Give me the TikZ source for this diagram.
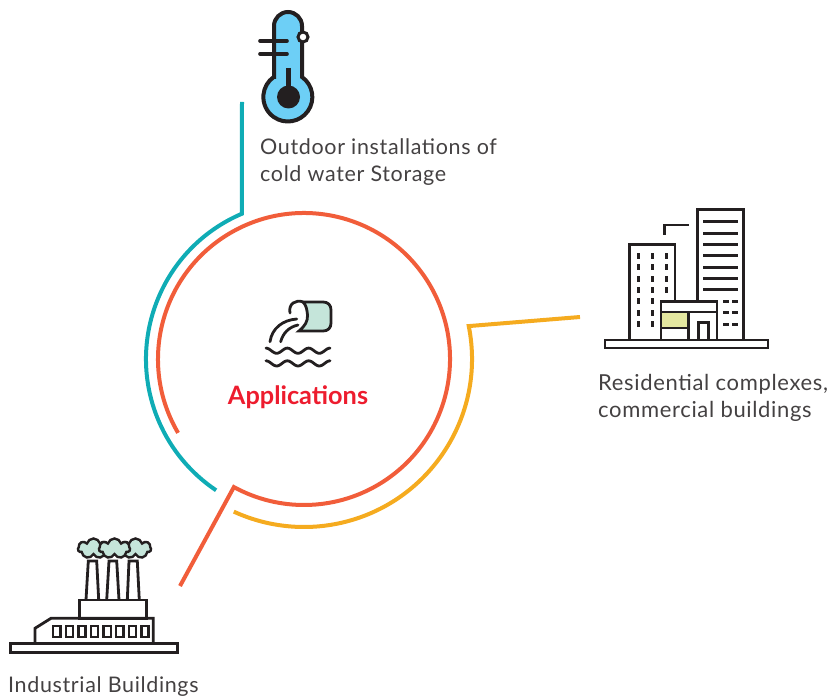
\documentclass[tikz,border=0pt]{standalone}
\usepackage{fontspec}
\setmainfont[LetterSpace=3]{Lato}
\newfontfamily\titlefont{Lato}
\usetikzlibrary{shapes.symbols}
\definecolor{ringred}{HTML}{F15D3A}
\definecolor{ringteal}{HTML}{0FACB5}
\definecolor{ringyellow}{HTML}{F5AB1F}
\definecolor{titlered}{HTML}{ED1C2E}
\definecolor{inkdark}{HTML}{231F20}
\definecolor{thermoblue}{HTML}{6DCFF6}
\definecolor{smokegreen}{HTML}{C5E5DA}
\definecolor{shoplime}{HTML}{E5E8A0}

\begin{document}
\begin{tikzpicture}[x=1pt, y=1pt]
	\tikzset{ring/.style={line width=4pt},
		icon/.style={draw=inkdark, line width=2.8pt},
		wave/.style={icon, line cap=round, smooth},
		label/.style={anchor=west, align=left, inner sep=0pt, font=\fontsize{21.5}{27.5}\selectfont, text=inkdark!85}}
	\useasboundingbox (0,0) rectangle (829,697);
	\coordinate(center) at (304,338);
	% rings
	\coordinate(tealtop) at (242,595);
	\coordinate(tealknee) at ([shift={(113.2:158)}]center);
	\coordinate(yellowend) at (580,380);
	\coordinate(yellowknee) at ([shift={(11.3:168)}]center);
	\coordinate(redend) at (180,111);
	\coordinate(redknee) at ([shift={(241.3:146)}]center);
	\coordinate(redstart) at ([shift={(210.4:146)}]center);
	\draw[ring, ringteal] (tealtop)--(tealknee) arc[start angle=113.2, end angle=236.2, radius=158];
	\draw[ring, ringyellow] (yellowend)--(yellowknee) arc[start angle=11.3, end angle=-114.7, radius=168];
	\draw[ring, ringred] (redstart) arc[start angle=210.4, end angle=-118.7, radius=146]--(redend);
	% texts
	\node(title) at (298,300){\titlefont\fontsize{25.3}{27}\selectfont\bfseries\textcolor{titlered}{Applications}};
	\node[label](storage) at (260,535){Outdoor installations of\\cold water Storage};
	\node[label, font=\fontsize{22}{27.5}\selectfont](homes) at (598,299){Residential complexes,\\commercial buildings};
	\node[label](industry) at (8,10.5){Industrial Buildings};
	% all icons below use the pixel rows of the sheet
	\begin{scope}[shift={(0,697)}, yscale=-1]
		% thermometer
		\draw[icon, line width=4pt, fill=thermoblue] (274,77)--(274,26) arc[start angle=180, end angle=360, radius=14]--(302,77)
			arc[start angle=-54.7, end angle=234.7, radius=24.5]--cycle;
		\draw[icon, line width=3.6pt, line cap=round] (260,41)--(287,41);
		\draw[icon, line width=3.6pt, line cap=round] (260,54)--(287,54);
		\draw[icon, line width=4.6pt] (288.5,68)--(288.5,90);
		\fill[inkdark] (288.5,97) circle (11.5);
		\draw[icon, line width=3pt, fill=white] (303,37) circle (5);
		% towers
		\draw[icon] (697.7,340)--(697.7,209.5)--(743.7,209.5)--(743.7,340);
		\draw[icon] (629.7,340)--(629.7,244.5)--(675,244.5)--(675,301);
		\draw[icon] (664.7,234.7)--(664.7,225)--(689,225);
		\foreach \rowy in {221.3,233.3,244.3,255.3,267.3,278.3,289.3}
			\draw[icon] (703,\rowy)--(738,\rowy);
		\foreach \rowy in {301.3,312.3,324.3}{
			\draw[icon] (723.3,\rowy)--(728.7,\rowy);
			\draw[icon] (732.3,\rowy)--(738,\rowy);
		}
		\foreach \rowy in {256,267,279,290,301,313,324}{
			\fill[inkdark] (636.8,\rowy-3) rectangle +(3,6);
			\fill[inkdark] (650.8,\rowy-3) rectangle +(3,6);
		}
		\foreach \rowy in {256,267,279,290}
			\fill[inkdark] (664.8,\rowy-3) rectangle +(3,6);
		\fill[white] (661,301.5) rectangle (717,340);
		\fill[shoplime] (661,312) rectangle (688.7,328);
		\draw[icon] (661,340)--(661,301.5)--(717,301.5)--(717,340);
		\draw[icon] (661,312)--(717,312);
		\draw[icon] (661,328)--(688.7,328);
		\draw[icon] (688.7,312)--(688.7,340);
		\draw[icon] (698.7,340)--(698.7,322.7)--(708.7,322.7)--(708.7,340);
		\draw[icon, fill=white] (605,340)rectangle(768,348);
		% factory
		\draw[icon, fill=white] (86,600)--(88.3,561)--(96.7,561)--(98.7,600);
		\draw[icon, fill=white] (106.7,600)--(109,561)--(116.7,561)--(119,600);
		\draw[icon, fill=white] (127.3,600)--(129,561)--(137.3,561)--(139.3,600);
		\draw[icon] (79.3,618.3)rectangle(146.3,600);
		\draw[icon] (35,643.7)--(35,628.3)--(51,618.3)--(153.3,618.3)--(153.3,643.7);
		\foreach \i in {0,...,7}
			\draw[icon, line width=2.4pt] (53.2+\i*12.6,625.7) rectangle +(7.2,11);
		\draw[icon, fill=white] (10.7,643.7)rectangle(177.7,652.3);
		\foreach \puff/\puffx in {puffc/135.5, puffa/93.5, puffb/114.5}
			\node[cloud, cloud puffs=7, aspect=1.6, draw=inkdark, line width=2.4pt, fill=smokegreen, inner sep=0pt, minimum width=31pt, minimum height=20pt](\puff) at (\puffx,548.5){};
		% pipe
		\draw[icon, fill=smokegreen] (303,302)--(323,302) .. controls (328,302) and (331,305) .. (331,310)--(331,323) .. controls (331,328) and (328,331) .. (323,331)--(299,331)
			.. controls (305,326) and (308,321) .. (307.5,315) .. controls (307,309) and (306,305) .. (303,302)--cycle;
		\draw[icon, line cap=round] (303,302) .. controls (296,299) and (288,304) .. (290,313);
		\draw[icon, line cap=round] (270,341.7) .. controls (272,328) and (283,320) .. (296.7,319);
		\draw[icon, line cap=round] (280.7,341.7) .. controls (283,333) and (289,327) .. (298,325);
		\draw[wave] plot[domain=0:64, samples=49] ({266+\x},{350.7-2.6*cos(\x/21.33*360)});
		\draw[wave] plot[domain=0:64, samples=49] ({266+\x},{363.4-2.6*cos(\x/21.33*360)});
	\end{scope}
\end{tikzpicture}
\end{document}
